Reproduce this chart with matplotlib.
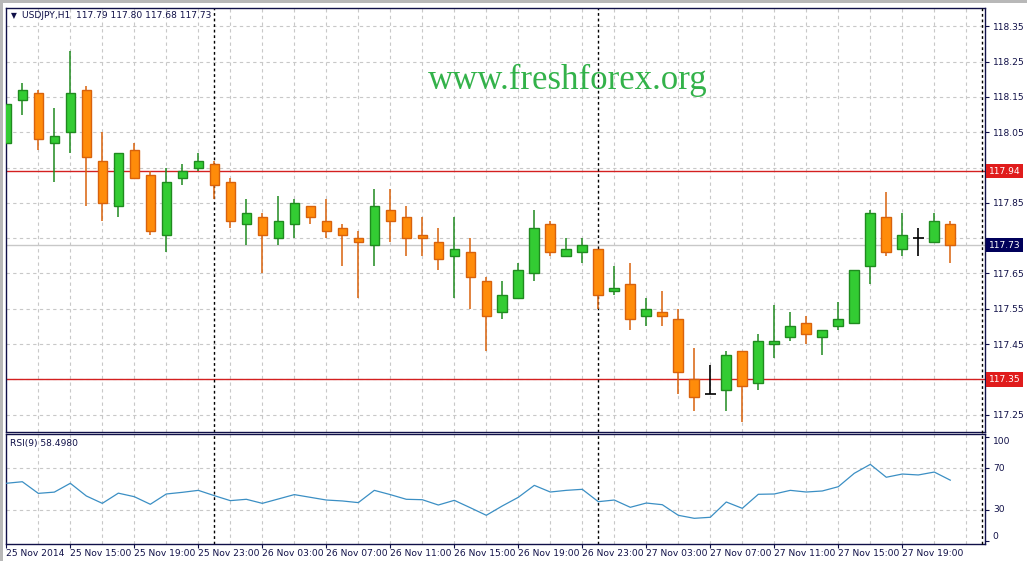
import numpy as np
import matplotlib.pyplot as plt
import matplotlib.transforms as mtransforms
from matplotlib.lines import Line2D
from matplotlib.patches import Rectangle

# hourly USDJPY bars, 25 Nov 11:00 .. 27 Nov 22:00
opens = [118.02, 118.14, 118.16, 118.02, 118.05, 118.17, 117.97, 117.84, 118.00, 117.93,
         117.76, 117.92, 117.95, 117.96, 117.91, 117.79, 117.81, 117.75, 117.79, 117.84,
         117.80, 117.78, 117.75, 117.73, 117.83, 117.81, 117.76, 117.74, 117.70, 117.71,
         117.63, 117.54, 117.58, 117.65, 117.79, 117.70, 117.71, 117.72, 117.60, 117.62,
         117.53, 117.54, 117.52, 117.35, 117.31, 117.32, 117.43, 117.34, 117.45, 117.47,
         117.51, 117.47, 117.50, 117.51, 117.67, 117.81, 117.72, 117.75, 117.74, 117.79]
highs = [118.19, 118.19, 118.17, 118.12, 118.28, 118.18, 118.05, 117.99, 118.02, 117.94,
         117.95, 117.96, 117.99, 117.97, 117.92, 117.86, 117.82, 117.87, 117.86, 117.84,
         117.86, 117.79, 117.77, 117.89, 117.89, 117.84, 117.81, 117.78, 117.81, 117.75,
         117.64, 117.63, 117.68, 117.83, 117.80, 117.75, 117.75, 117.72, 117.67, 117.68,
         117.58, 117.60, 117.55, 117.44, 117.39, 117.43, 117.43, 117.48, 117.56, 117.54,
         117.53, 117.49, 117.57, 117.66, 117.83, 117.88, 117.82, 117.78, 117.82, 117.80]
lows = [118.01, 118.10, 118.00, 117.91, 117.99, 117.84, 117.80, 117.81, 117.92, 117.76,
        117.71, 117.90, 117.94, 117.86, 117.78, 117.73, 117.65, 117.73, 117.75, 117.79,
        117.75, 117.67, 117.58, 117.67, 117.74, 117.70, 117.70, 117.66, 117.58, 117.55,
        117.43, 117.52, 117.58, 117.63, 117.70, 117.70, 117.68, 117.55, 117.59, 117.49,
        117.50, 117.50, 117.31, 117.26, 117.31, 117.26, 117.23, 117.32, 117.41, 117.46,
        117.45, 117.42, 117.49, 117.51, 117.62, 117.70, 117.70, 117.70, 117.74, 117.68]
closes = [118.13, 118.17, 118.03, 118.04, 118.16, 117.98, 117.85, 117.99, 117.92, 117.77,
          117.91, 117.94, 117.97, 117.90, 117.80, 117.82, 117.76, 117.80, 117.85, 117.81,
          117.77, 117.76, 117.74, 117.84, 117.80, 117.75, 117.75, 117.69, 117.72, 117.64,
          117.53, 117.59, 117.66, 117.78, 117.71, 117.72, 117.73, 117.59, 117.61, 117.52,
          117.55, 117.53, 117.37, 117.30, 117.31, 117.42, 117.33, 117.46, 117.46, 117.50,
          117.48, 117.49, 117.52, 117.66, 117.82, 117.71, 117.76, 117.75, 117.80, 117.73]
rsi = [55.5, 57.0, 45.8, 47.0, 55.5, 43.3, 36.2, 46.0, 42.6, 35.3,
       45.2, 46.8, 48.7, 43.6, 38.8, 40.1, 36.2, 40.4, 44.6, 42.0,
       39.4, 38.5, 36.9, 48.7, 44.6, 40.1, 39.7, 34.6, 39.1, 32.0,
       24.7, 33.7, 42.0, 53.5, 47.1, 48.7, 49.7, 37.8, 39.4, 32.4,
       36.5, 34.9, 24.7, 21.8, 22.8, 37.5, 31.4, 44.9, 45.2, 48.7,
       47.1, 48.1, 52.2, 65.1, 73.7, 61.3, 64.4, 63.5, 66.3, 58.498]

time_ticks = [0, 4, 8, 12, 16, 20, 24, 28, 32, 36, 40, 44, 48, 52, 56]
time_labels = ['25 Nov 2014', '25 Nov 15:00', '25 Nov 19:00', '25 Nov 23:00',
               '26 Nov 03:00', '26 Nov 07:00', '26 Nov 11:00', '26 Nov 15:00',
               '26 Nov 19:00', '26 Nov 23:00', '27 Nov 03:00', '27 Nov 07:00',
               '27 Nov 11:00', '27 Nov 15:00', '27 Nov 19:00']
day_breaks = [13, 37]
price_ticks = [118.35, 118.25, 118.15, 118.05, 117.95, 117.85, 117.75, 117.65,
               117.55, 117.45, 117.35, 117.25]
levels = [117.94, 117.35]
bid = 117.73
rsi_ticks = [100, 70, 30, 0]

navy = '#101048'
grid_kw = dict(color='#c8c8c8', lw=0.8, ls=(0, (3, 3)))
sep_kw = dict(color='black', lw=1, ls=(0, (2, 2)))
fs = 6.6

fig = plt.figure(figsize=(10.27, 5.61), dpi=100)
W, H = 1027, 561
ax = fig.add_axes([6 / W, 1 - 432 / H, 979 / W, 424 / H])
ax2 = fig.add_axes([6 / W, 1 - 544 / H, 979 / W, 110 / H])

x = np.arange(len(opens))
xlim = (-0.02, 61.17)

# ---- main price panel
ax.set_xlim(*xlim)
ax.set_ylim(117.201, 118.402)
for xi in range(2, 62, 2):
    ax.axvline(xi, zorder=0, **grid_kw)
for p in price_ticks:
    ax.axhline(p, zorder=0, **grid_kw)
ax.axhline(bid, color='#c8c8c8', lw=1, zorder=1)
for lv in levels:
    ax.axhline(lv, color='#d42020', lw=1, zorder=1)
for d in day_breaks:
    ax.axvline(d, zorder=1, **sep_kw)

for i in x:
    o, h, l, c = opens[i], highs[i], lows[i], closes[i]
    if abs(c - o) < 1e-9:
        ax.vlines(i, l, h, color='black', lw=1.2, zorder=2)
        ax.hlines(o, i - 0.33, i + 0.33, color='black', lw=1.2, zorder=2)
        continue
    if c > o:
        fill, edge = '#33cc33', '#1f8a1f'
    else:
        fill, edge = '#ff8c0a', '#d8620c'
    ax.vlines(i, l, h, color=edge, lw=1.1, zorder=2)
    ax.bar(i, abs(c - o), bottom=min(o, c), width=0.6, color=fill,
           edgecolor=edge, linewidth=1, zorder=3)

ax.set_xticks([])
ax.yaxis.tick_right()
ax.set_yticks(price_ticks)
# labels sitting under the level / bid boxes are hidden, as in the terminal
covered = levels + [bid]
ax.set_yticklabels(['' if min(abs(p - c) for c in covered) < 0.03 else f'{p:.2f}'
                    for p in price_ticks])
ax.tick_params(axis='y', length=3, width=0.8, pad=3, labelsize=fs,
               color=navy, labelcolor=navy)
for s in ax.spines.values():
    s.set_color(navy)
    s.set_linewidth(1)

tr = mtransforms.blended_transform_factory(ax.transAxes, ax.transData)
for lv in levels:
    ax.text(1.004, lv, f'{lv:.2f}', transform=tr, ha='left', va='center',
            fontsize=fs, color='white', zorder=10, clip_on=False,
            bbox=dict(boxstyle='square,pad=0.3', fc='#e01c1c', ec='none'))
ax.text(1.004, bid, f'{bid:.2f}', transform=tr, ha='left', va='center',
        fontsize=fs, color='white', zorder=10, clip_on=False,
        bbox=dict(boxstyle='square,pad=0.3', fc='#00005a', ec='none'))

ax.text(0.0055, 0.983, '\u25bc', transform=ax.transAxes, fontsize=5.5,
        color=navy, va='center', ha='left')
ax.text(0.0165, 0.983, 'USDJPY,H1  117.79 117.80 117.68 117.73',
        transform=ax.transAxes, fontsize=fs, color=navy, va='center', ha='left')
ax.text(0.574, 0.83, 'www.freshforex.org', transform=ax.transAxes,
        fontsize=25, family='Liberation Serif', color='#33b24a',
        ha='center', va='center')

# ---- RSI panel
ax2.set_xlim(*xlim)
ax2.set_ylim(-2.9, 102.9)
for xi in range(2, 62, 2):
    ax2.axvline(xi, zorder=0, **grid_kw)
for v in (70, 30):
    ax2.axhline(v, zorder=0, **grid_kw)
for d in day_breaks:
    ax2.axvline(d, zorder=1, **sep_kw)
ax2.plot(x, rsi, color='#3b8fc4', lw=0.9, zorder=3)

ax2.set_xticks(time_ticks)
ax2.set_xticklabels(time_labels, ha='left')
ax2.tick_params(axis='x', length=3, width=0.8, pad=0.5, labelsize=fs,
                color=navy, labelcolor=navy)
ax2.yaxis.tick_right()
ax2.set_yticks(rsi_ticks)
ax2.set_yticklabels([])
ax2.tick_params(axis='y', length=3, width=0.8, color=navy)
tr2 = mtransforms.blended_transform_factory(ax2.transAxes, ax2.transData)
for v in rsi_ticks:
    va = 'top' if v == 100 else ('bottom' if v == 0 else 'center')
    ax2.text(1.008, v, str(v), transform=tr2, fontsize=fs, color=navy,
             ha='left', va=va, clip_on=False)
for s in ax2.spines.values():
    s.set_color(navy)
    s.set_linewidth(1)
ax2.text(0.004, 0.915, 'RSI(9) 58.4980', transform=ax2.transAxes,
         fontsize=fs, color=navy, ha='left', va='center')

# right dotted edge line across both panels, window frame
fig.add_artist(Line2D([982 / W, 982 / W], [1 - 544 / H, 1 - 8 / H],
                      transform=fig.transFigure, color='black', lw=1,
                      ls=(0, (2, 2))))
fig.add_artist(Rectangle((0, 0), 3 / W, 1, transform=fig.transFigure,
                         fc='#b8b8b8', ec='none'))
fig.add_artist(Rectangle((0, 1 - 3 / H), 1, 3 / H, transform=fig.transFigure,
                         fc='#b8b8b8', ec='none'))

fig.savefig('out.png', dpi=100, facecolor='white')
